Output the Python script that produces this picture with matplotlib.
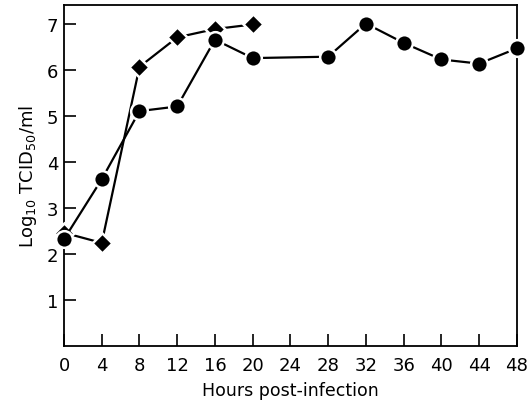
import matplotlib
matplotlib.use('Agg')
import matplotlib.pyplot as plt
import numpy as np

# circles
circle_hours = [0, 4, 8, 12, 16, 20, 28, 32, 36, 40, 44, 48]
circle_titer = [2.32, 3.62, 5.1, 5.2, 6.65, 6.25, 6.28, 7.0, 6.58, 6.22, 6.13, 6.46]

# diamonds
diamond_hours = [0, 4, 8, 12, 16, 20]
diamond_titer = [2.46, 2.24, 6.06, 6.7, 6.88, 6.98]

x_ticks = list(range(0, 49, 4))
y_ticks = [1, 2, 3, 4, 5, 6, 7]

plt.rcParams['font.family'] = ['DejaVu Sans']

fig = plt.figure(figsize=(5.29, 4.06), dpi=100)
ax = fig.add_axes([0.121, 0.145, 0.856, 0.84])

ax.plot(diamond_hours, diamond_titer, color='black', lw=1.6, marker='D',
        ms=10, mfc='black', mec='white', mew=1.8, clip_on=False, zorder=3)
ax.plot(circle_hours, circle_titer, color='black', lw=1.6, marker='o',
        ms=12, mfc='black', mec='white', mew=1.8, clip_on=False, zorder=4)

ax.set_xlim(0, 48)
ax.set_ylim(0, 7.4)
ax.set_xticks(x_ticks)
ax.set_yticks(y_ticks)
ax.tick_params(direction='in', length=8.5, width=1.2, labelsize=13, pad=7)
ax.tick_params(axis='y', pad=4)
for s in ax.spines.values():
    s.set_linewidth(1.3)

ax.set_xlabel('Hours post-infection', fontsize=12.5, labelpad=5)
ax.set_ylabel(r'Log$_{10}$ TCID$_{50}$/ml', fontsize=13, labelpad=6)

fig.savefig('out.png', dpi=100)
